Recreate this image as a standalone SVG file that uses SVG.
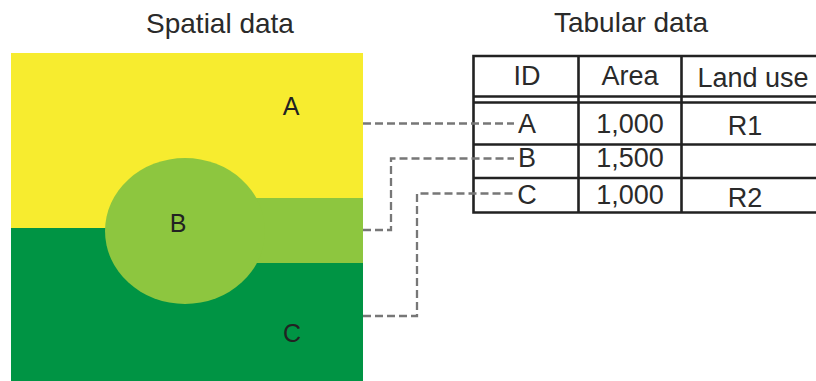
<svg xmlns="http://www.w3.org/2000/svg" width="816" height="381" viewBox="0 0 816 381">
  <style>
    .title { font-family: "Liberation Sans", Arial, sans-serif; font-size: 28px; fill: #2a2a2a; text-anchor: middle; }
    .cell { font-family: "Liberation Sans", Arial, sans-serif; font-size: 27px; fill: #2a2a2a; text-anchor: middle; }
    .zone { font-family: "Liberation Sans", Arial, sans-serif; font-size: 25px; fill: #222; text-anchor: middle; }
    .grid { stroke: #222; stroke-width: 2.6; fill: none; }
    .link { stroke: #777; stroke-width: 2.3; fill: none; stroke-dasharray: 8 4; }
  </style>
  <rect width="816" height="381" fill="#fff"/>

  <text class="title" x="220" y="33">Spatial data</text>
  <text class="title" x="631" y="32">Tabular data</text>

  <!-- map polygons -->
  <g id="zone-a">
    <rect x="11" y="53" width="352" height="175" fill="#F7EC2F"/>
    <text class="zone" x="291" y="115">A</text>
  </g>
  <g id="zone-c">
    <rect x="11" y="228" width="352" height="153" fill="#009444"/>
    <text class="zone" x="292" y="342">C</text>
  </g>
  <g id="zone-b">
    <rect x="240" y="198" width="123" height="65" fill="#8DC63F"/>
    <ellipse cx="185" cy="231" rx="80" ry="73" fill="#8DC63F"/>
    <text class="zone" x="178" y="232">B</text>
  </g>

  <!-- attribute table -->
  <g id="table">
    <path class="grid" d="M816 56H473.5V212.5H816 M473.5 96.5H816 M473.5 102.5H816 M473.5 144.5H816 M473.5 178H816 M578.5 56V212.5 M681.5 56V212.5"/>
    <text class="cell" x="527" y="85">ID</text>
    <text class="cell" x="630" y="85">Area</text>
    <text class="cell" x="753" y="87">Land use</text>
    <text class="cell" x="527" y="133">A</text>
    <text class="cell" x="630" y="133">1,000</text>
    <text class="cell" x="745" y="135">R1</text>
    <text class="cell" x="527" y="167">B</text>
    <text class="cell" x="630" y="167">1,500</text>
    <text class="cell" x="527" y="204">C</text>
    <text class="cell" x="630" y="204">1,000</text>
    <text class="cell" x="745" y="207">R2</text>
  </g>

  <!-- links from polygons to rows -->
  <g id="connectors">
    <path class="link" d="M363 123.5H514"/>
    <path class="link" d="M363 230H391V158.5H514"/>
    <path class="link" d="M363 316H417V193.5H514"/>
  </g>
</svg>
